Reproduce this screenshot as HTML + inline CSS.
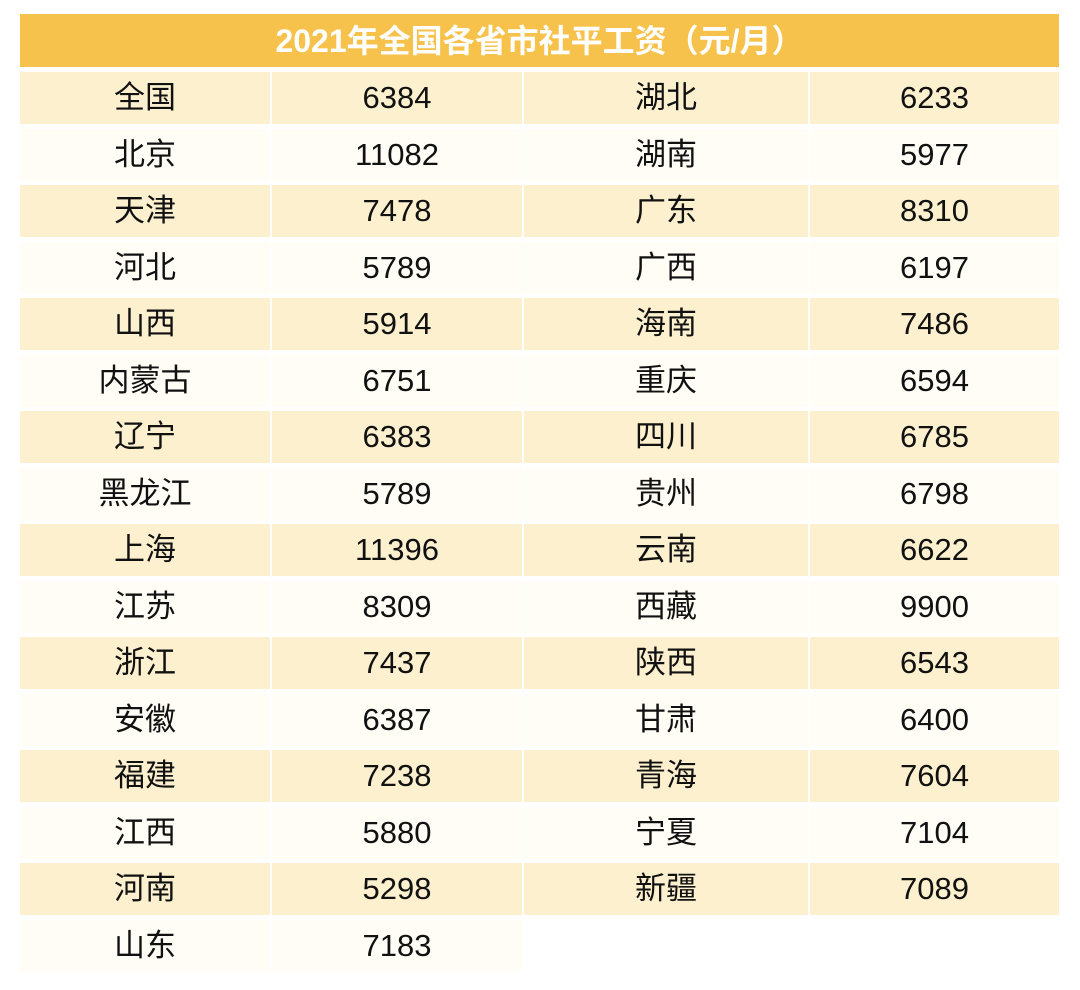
<!DOCTYPE html>
<html><head><meta charset="utf-8">
<style>
body{margin:0;width:1080px;height:990px;background:#fff;position:relative;overflow:hidden;font-family:"Liberation Sans","Noto Sans CJK SC",sans-serif;}
#title{position:absolute;left:20px;top:14px;width:1039px;height:53px;background:#F6C24C;color:#fff;font-weight:bold;font-size:32px;line-height:55px;text-align:center;}
.c{position:absolute;height:52px;line-height:52px;text-align:center;font-size:31px;color:#111;}
</style></head><body>
<div id="title">2021年全国各省市社平工资（元/月）</div>
<div id="tbl"></div>
<script>
const leftNames=["全国","北京","天津","河北","山西","内蒙古","辽宁","黑龙江","上海","江苏","浙江","安徽","福建","江西","河南","山东"];
const leftVals=[6384,11082,7478,5789,5914,6751,6383,5789,11396,8309,7437,6387,7238,5880,5298,7183];
const rightNames=["湖北","湖南","广东","广西","海南","重庆","四川","贵州","云南","西藏","陕西","甘肃","青海","宁夏","新疆"];
const rightVals=[6233,5977,8310,6197,7486,6594,6785,6798,6622,9900,6543,6400,7604,7104,7089];
const tbl=document.getElementById('tbl');
const cols=[[20,250],[272,250],[524,284],[810,249]];
function cell(col,row,text,name){
  const d=document.createElement('div');
  d.className='c';
  
  
  d.style.left=cols[col][0]+'px';
  d.style.width=cols[col][1]+'px';
  d.style.top=(72+row*56.5)+'px';
  d.style.background=row%2===0?'#FCF0CF':'#FFFDF5';
  d.textContent=text;
  tbl.appendChild(d);
}
for(let i=0;i<16;i++){
  cell(0,i,leftNames[i],'province-name');
  cell(1,i,String(leftVals[i]),'wage-value');
  if(i<rightNames.length){
    cell(2,i,rightNames[i],'province-name');
    cell(3,i,String(rightVals[i]),'wage-value');
  }
}
</script>
</body></html>
